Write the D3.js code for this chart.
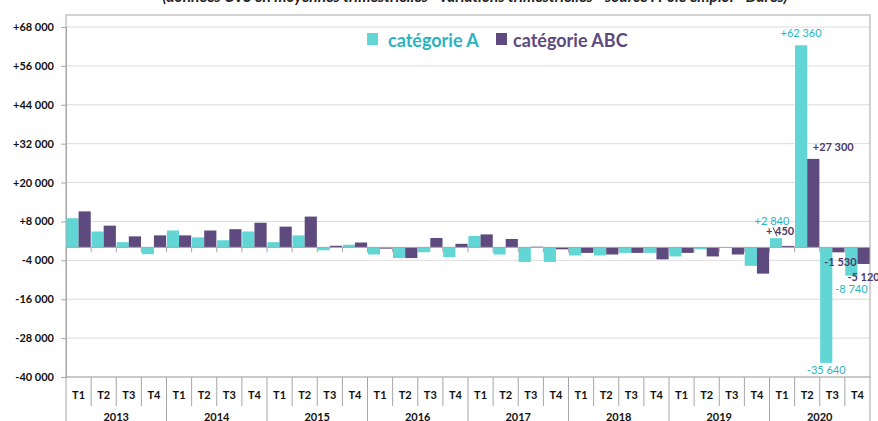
<!DOCTYPE html>
<html>
<head>
<meta charset="utf-8">
<script src="https://cdn.jsdelivr.net/npm/d3@7"></script>
<style>
  body { margin: 0; background: #fff; }
  svg { font-family: Lato, "Open Sans", sans-serif; }
</style>
</head>
<body>
<div id="chart"></div>
<script>
// data
var years = ["2013", "2014", "2015", "2016", "2017", "2018", "2019", "2020"];
var quarters = ["T1", "T2", "T3", "T4"];
var catA = [9000, 4900, 1600, -2100, 5200, 3100, 2200, 4900,
            1600, 3700, -900, 800, -2200, -3300, -1500, -3000,
            3500, -2200, -4500, -4500, -2500, -2500, -1700, -1700,
            -2800, -600, -200, -5700, 2840, 62360, -35640, -8740];
var catABC = [11100, 6700, 3400, 3700, 3700, 5200, 5600, 7600,
              6400, 9500, 500, 1500, -400, -3300, 2900, 1100,
              4000, 2600, 200, -600, -1700, -2200, -1700, -3700,
              -1700, -2800, -2200, -8100, 450, 27300, -1530, -5120];
var yTicks = [68000, 56000, 44000, 32000, 20000, 8000, -4000, -16000, -28000, -40000];
var seriesNames = ["catégorie A", "catégorie ABC"];

var colA = "#61d6d5", colABC = "#5e4a7e";
var txtA = "#2bb3c2", txtABC = "#4e3a6a";

var svgWidth = 878, svgHeight = 421;
var plot = {left: 66, right: 870, top: 15, y0: 27, y1: 377};

var svg = d3.select("#chart").append("svg")
  .attr("width", svgWidth)
  .attr("height", svgHeight);

// quarters as flat keys
var keys = [];
years.forEach(function(y) { quarters.forEach(function(q) { keys.push(y + "-" + q); }); });

var x = d3.scaleBand().domain(keys).range([plot.left, plot.right]).paddingInner(0.03).paddingOuter(0.015);
var xs = d3.scaleBand().domain([0, 1]).range([0, x.bandwidth()]);
var y = d3.scaleLinear().domain([-40000, 68000]).range([plot.y1, plot.y0]);
var step = x.step();

var fmt = function(v) {
  var s = d3.format(",")(Math.abs(v)).replace(/,/g, " ");
  return (v >= 0 ? "+" : "-") + s;
};

// title (cut at the top)
svg.append("text")
  .attr("x", 475).attr("y", 2)
  .attr("text-anchor", "middle")
  .style("font-size", "15.5px").style("font-weight", "bold").style("font-style", "italic")
  .attr("fill", "#222")
  .text("(données CVS en moyennes trimestrielles - variations trimestrielles - source : Pôle emploi - Dares)");

// gridlines
svg.append("g").selectAll("line").data(yTicks).enter().append("line")
  .attr("x1", plot.left).attr("x2", plot.right)
  .attr("y1", d => y(d)).attr("y2", d => y(d))
  .attr("stroke", "#dcdcdc").attr("stroke-width", 1);

// frame
svg.append("rect")
  .attr("x", plot.left).attr("y", plot.top)
  .attr("width", plot.right - plot.left).attr("height", plot.y1 - plot.top)
  .attr("fill", "none").attr("stroke", "#a6a6a6");

// left axis
var leftAxis = d3.axisLeft(y).tickValues(yTicks).tickSize(5).tickFormat(fmt);
var gy = svg.append("g").attr("transform", `translate(${plot.left},0)`).call(leftAxis);
gy.select(".domain").attr("stroke", "#a6a6a6");
gy.selectAll(".tick line").attr("stroke", "#a6a6a6");
gy.selectAll("text").attr("x", -12).attr("fill", "#111")
  .style("font-size", "11px").style("font-weight", "bold").style("font-family", "Lato, sans-serif");

// bars
var series = [catA, catABC];
var cols = [colA, colABC];
series.forEach(function(vals, si) {
  svg.append("g").selectAll("rect").data(vals).enter().append("rect")
    .attr("x", (d, i) => x(keys[i]) + xs(si))
    .attr("width", xs.bandwidth())
    .attr("y", d => y(Math.max(0, d)))
    .attr("height", d => Math.abs(y(d) - y(0)))
    .attr("fill", cols[si]);
});

// zero line with ticks
svg.append("line")
  .attr("x1", plot.left).attr("x2", plot.right)
  .attr("y1", y(0)).attr("y2", y(0))
  .attr("stroke", "#a6a6a6");
svg.append("g").selectAll("line").data(keys.slice(1)).enter().append("line")
  .attr("x1", d => x(d) - x.step() * x.paddingInner() / 2).attr("x2", d => x(d) - x.step() * x.paddingInner() / 2)
  .attr("y1", y(0)).attr("y2", y(0) + 5)
  .attr("stroke", "#a6a6a6");

// category axis (quarters + years)
var bottom = svg.append("g");
keys.forEach(function(k, i) {
  var xl = plot.left + i * step;
  var isYear = i % 4 === 0;
  bottom.append("line")
    .attr("x1", xl).attr("x2", xl)
    .attr("y1", plot.y1).attr("y2", isYear ? svgHeight : 406)
    .attr("stroke", "#a6a6a6");
  bottom.append("text")
    .attr("x", xl + step / 2).attr("y", 399)
    .attr("text-anchor", "middle")
    .style("font-size", "11px").style("font-weight", "bold").attr("fill", "#111")
    .text(quarters[i % 4]);
});
bottom.append("line").attr("x1", plot.right).attr("x2", plot.right)
  .attr("y1", plot.y1).attr("y2", svgHeight).attr("stroke", "#a6a6a6");
years.forEach(function(yr, j) {
  bottom.append("text")
    .attr("x", plot.left + (j * 4 + 2) * step).attr("y", 421)
    .attr("text-anchor", "middle")
    .style("font-size", "11px").style("font-weight", "bold").attr("fill", "#111")
    .text(yr);
});

// value labels for 2020 (offsets relative to the bar they describe)
function bx(i, si) { return x(keys[i]) + xs(si); }
var bw = xs.bandwidth();
var labels = [
  {i: 28, s: 0, dx: -4, dy: -13, ref: "end"},
  {i: 29, s: 0, dx: 0, dy: -8, ref: "end"},
  {i: 30, s: 0, dx: 0, dy: 11, ref: "end"},
  {i: 31, s: 0, dx: 0, dy: 17, ref: "end"},
  {i: 28, s: 1, dx: -8, dy: -12, ref: "zero"},
  {i: 29, s: 1, dx: 20, dy: -8, ref: "end"},
  {i: 30, s: 1, dx: 2, dy: 14, ref: "end"},
  {i: 31, s: 1, dx: 0, dy: 17, ref: "end"}
];
var lab = svg.append("g");
labels.forEach(function(l) {
  var v = series[l.s][l.i];
  var cx = bx(l.i, l.s) + bw / 2;
  var yy = (l.ref === "zero" ? y(0) : y(v)) + l.dy;
  lab.append("text")
    .attr("x", cx + l.dx).attr("y", yy)
    .attr("text-anchor", "middle")
    .style("font-size", "11px")
    .style("font-weight", l.s === 1 ? "bold" : "normal")
    .attr("fill", l.s === 1 ? txtABC : txtA)
    .text(l.i === 28 && l.s === 1 ? "+ " + Math.abs(v) : fmt(v));
});
// leader for +450
lab.append("line")
  .attr("x1", bx(28, 1) - 9).attr("y1", y(0) - 20)
  .attr("x2", bx(28, 1) - 5).attr("y2", y(0) - 11)
  .attr("stroke", "#222").attr("stroke-width", 0.8);

// legend
var legend = svg.append("g");
var legendPos = [367, 496];
var legendText = [388, 513];
seriesNames.forEach(function(name, si) {
  legend.append("rect")
    .attr("x", legendPos[si]).attr("y", 33)
    .attr("width", 11).attr("height", 12)
    .attr("fill", cols[si]);
  legend.append("text")
    .attr("x", legendText[si]).attr("y", 47)
    .style("font-size", "18px").style("font-weight", "bold")
    .attr("fill", si === 0 ? txtA : "#5e4a7e")
    .text(name);
});
</script>
</body>
</html>
